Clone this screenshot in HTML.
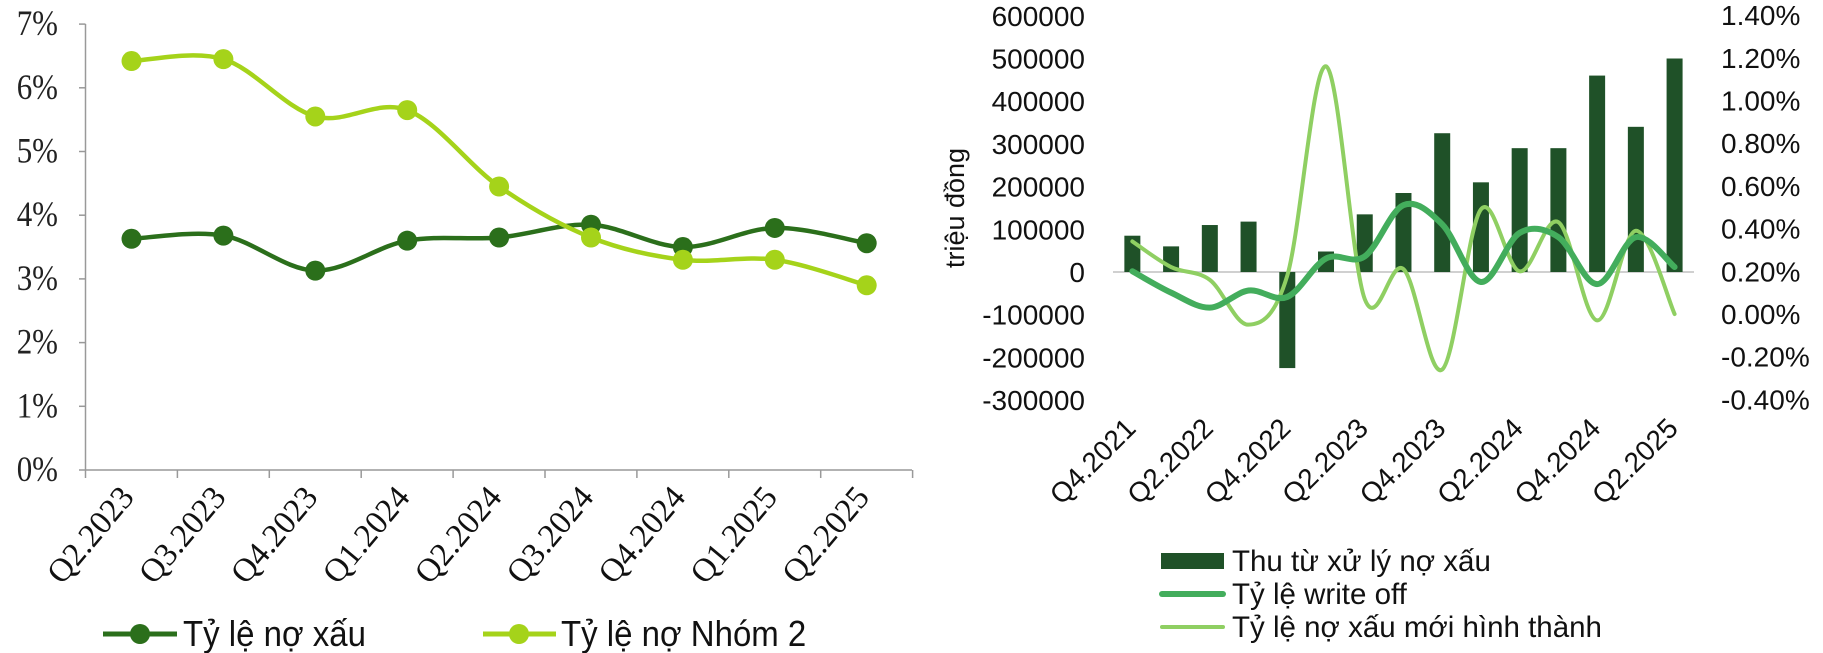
<!DOCTYPE html>
<html><head><meta charset="utf-8"><style>
html,body{margin:0;padding:0;background:#fff;}
svg{display:block;}
.s{font-family:"Liberation Serif",serif;}
.a{font-family:"Liberation Sans",sans-serif;}
</style></head><body>
<svg id="c" width="1823" height="653" viewBox="0 0 1823 653" xmlns="http://www.w3.org/2000/svg"></svg>
<script>
const svg=document.getElementById('c');let h='';
function cr(pts){let d='M'+pts[0][0]+','+pts[0][1];for(let i=0;i<pts.length-1;i++){const p0=pts[i-1]||pts[i],p1=pts[i],p2=pts[i+1],p3=pts[i+2]||p2;const t=1/6;d+=' C'+(p1[0]+(p2[0]-p0[0])*t)+','+(p1[1]+(p2[1]-p0[1])*t)+' '+(p2[0]-(p3[0]-p1[0])*t)+','+(p2[1]-(p3[1]-p1[1])*t)+' '+p2[0]+','+p2[1];}return d;}
// LEFT
const y0=470,pp=63.7;
h+='<line x1="85.5" y1="24" x2="85.5" y2="470" stroke="#999" stroke-width="1.5"/>';
h+='<line x1="85.5" y1="470" x2="912" y2="470" stroke="#999" stroke-width="1.5"/>';
for(let i=0;i<=7;i++){const y=y0-i*pp;h+='<line x1="79" y1="'+y+'" x2="85.5" y2="'+y+'" stroke="#999" stroke-width="1.5"/>';h+='<text class="s" transform="translate(58,'+(y+11)+') scale(1,1.15)" font-size="31" text-anchor="end" fill="#222">'+i+'%</text>';}
const lab=['Q2.2023','Q3.2023','Q4.2023','Q1.2024','Q2.2024','Q3.2024','Q4.2024','Q1.2025','Q2.2025'];
for(let i=0;i<=9;i++){const x=85.5+i*91.9;h+='<line x1="'+x+'" y1="470" x2="'+x+'" y2="478" stroke="#999" stroke-width="1.5"/>';}
lab.forEach((l,i)=>{const x=131.5+i*91.9;h+='<text class="s" transform="translate('+(x+4)+',498) rotate(-50)" font-size="33" text-anchor="end" fill="#111">'+l+'</text>';});
const d1=[3.63,3.68,3.13,3.6,3.65,3.85,3.5,3.8,3.56],d2=[6.42,6.45,5.55,5.65,4.45,3.65,3.3,3.3,2.9];
function ser(d,c){const p=d.map((v,i)=>[131.5+i*91.9,y0-v*pp]);h+='<path d="'+cr(p)+'" fill="none" stroke="'+c+'" stroke-width="4.5"/>';p.forEach(q=>h+='<circle cx="'+q[0]+'" cy="'+q[1]+'" r="10" fill="'+c+'"/>');}
ser(d1,'#2b6f1b');ser(d2,'#a5d31a');
h+='<line x1="103" y1="634" x2="177" y2="634" stroke="#2b6f1b" stroke-width="5"/><circle cx="140" cy="634" r="10" fill="#2b6f1b"/>';
h+='<text class="a" transform="translate(183,646) scale(1,1.1)" font-size="33" fill="#111">Tỷ lệ nợ xấu</text>';
h+='<line x1="483" y1="634" x2="556" y2="634" stroke="#a5d31a" stroke-width="5"/><circle cx="519" cy="634" r="10" fill="#a5d31a"/>';
h+='<text class="a" transform="translate(561,646) scale(1,1.1)" font-size="33" fill="#111">Tỷ lệ nợ Nhóm 2</text>';
// RIGHT
const z=272,pk=42.7,zr=314,cw=38.73,x0=1113;
h+='<line x1="1113" y1="272" x2="1694" y2="272" stroke="#d0d0d0" stroke-width="2"/>';
for(let i=-3;i<=6;i++){const y=z-i*pk;h+='<text class="a" x="1085" y="'+(y+10)+'" font-size="28" text-anchor="end" fill="#111">'+(i*100000)+'</text>';}
for(let i=-2;i<=7;i++){const y=zr-i*pk;h+='<text class="a" x="1721" y="'+(y+10)+'" font-size="28" fill="#111">'+(i*0.2).toFixed(2)+'%</text>';}
h+='<text class="a" transform="translate(964,208) rotate(-90)" font-size="27" text-anchor="middle" fill="#111">triệu đồng</text>';
const bars=[85,60,110,118,-225,48,135,185,325,210,290,290,460,340,500];
bars.forEach((v,i)=>{const cx=x0+cw*(i+0.5);const y=z-v/100*pk;h+='<rect x="'+(cx-8)+'" y="'+Math.min(y,z)+'" width="16" height="'+Math.abs(z-y)+'" fill="#1f5128"/>';});
const wo=[0.20,0.10,0.03,0.11,0.08,0.26,0.27,0.51,0.42,0.15,0.38,0.36,0.14,0.36,0.22];
const nn=[0.34,0.22,0.16,-0.05,0.18,1.16,0.07,0.21,-0.26,0.49,0.20,0.43,-0.03,0.39,0.00];
function rs(d,c,w){const p=d.map((v,i)=>[x0+cw*(i+0.5),zr-v/0.2*pk]);h+='<path d="'+cr(p)+'" fill="none" stroke="'+c+'" stroke-width="'+w+'" stroke-linecap="round"/>';}
rs(nn,'#8fcf62',4);rs(wo,'#43ad5c',6);
['Q4.2021','Q2.2022','Q4.2022','Q2.2023','Q4.2023','Q2.2024','Q4.2024','Q2.2025'].forEach((l,i)=>{const cx=x0+cw*(2*i+0.5);h+='<text class="a" transform="translate('+(cx+5)+',430) rotate(-45)" font-size="28" text-anchor="end" fill="#111">'+l+'</text>';});
h+='<rect x="1161" y="553" width="63" height="16" fill="#1f5128"/>';
h+='<text class="a" x="1232" y="571" font-size="29.5" fill="#111">Thu từ xử lý nợ xấu</text>';
h+='<line x1="1162" y1="594" x2="1223" y2="594" stroke="#43ad5c" stroke-width="6" stroke-linecap="round"/>';
h+='<text class="a" x="1232" y="604" font-size="29.5" fill="#111">Tỷ lệ write off</text>';
h+='<line x1="1162" y1="627" x2="1223" y2="627" stroke="#8fcf62" stroke-width="4" stroke-linecap="round"/>';
h+='<text class="a" x="1232" y="637" font-size="29.5" fill="#111">Tỷ lệ nợ xấu mới hình thành</text>';
svg.innerHTML=h;
</script>
</body></html>
